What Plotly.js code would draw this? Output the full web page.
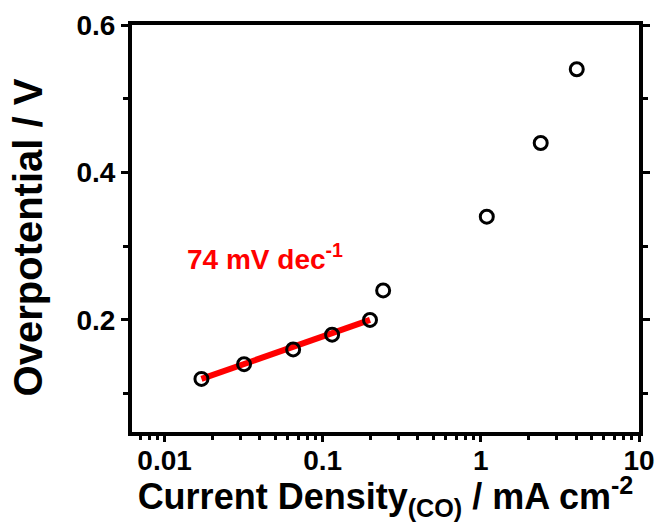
<!DOCTYPE html>
<html>
<head>
<meta charset="utf-8">
<script src="https://cdn.plot.ly/plotly-3.0.1.min.js"></script>
<style>html,body{margin:0;padding:0;background:#fff;}#chart{width:659px;height:522px;}</style>
</head>
<body>
<div id="chart"></div>
<script>
// Data
const currentDensity = [0.0171, 0.0318, 0.065, 0.1146, 0.199, 0.241, 1.09, 2.39, 4.04]; // mA cm^-2
const overpotential  = [0.12, 0.14, 0.16, 0.18, 0.20, 0.24, 0.34, 0.44, 0.54];        // V
const fitX = [0.0171, 0.199];
const fitY = [0.12, 0.20];
const xTickVals = [0.01, 0.1, 1, 10];
const xTickText = ["0.01", "0.1", "1", "10"];
const yTickVals = [0.2, 0.4, 0.6];
const yTickText = ["0.2", "0.4", "0.6"];
const tafelLabel = "74 mV dec<sup>-1</sup>";
const yTitle = "Overpotential / V";
const xTitle = "Current Density<sub>(CO)</sub> / mA cm<sup>-2</sup>";

const FONT = "Liberation Sans, Arial, Helvetica, sans-serif";

const traces = [
  {
    x: fitX, y: fitY, type: "scatter", mode: "lines",
    line: {color: "#ff0000", width: 6}, hoverinfo: "skip", showlegend: false
  },
  {
    x: currentDensity, y: overpotential, type: "scatter", mode: "markers",
    marker: {symbol: "circle-open", size: 13, color: "#000", line: {width: 3, color: "#000"}},
    showlegend: false
  }
];

const layout = {
  width: 659, height: 522,
  margin: {l: 132, r: 20, t: 25, b: 90},
  paper_bgcolor: "#fff", plot_bgcolor: "#fff",
  font: {family: FONT, color: "#000", weight: "bold"},
  xaxis: {
    type: "log",
    range: [Math.log10(0.00622), 1],
    tickvals: xTickVals, ticktext: xTickText,
    ticks: "outside", ticklen: 6, tickwidth: 3, tickcolor: "#000",
    tickfont: {size: 28, family: FONT, weight: "bold"},
    ticklabelstandoff: -6,
    showline: true, linewidth: 4, linecolor: "#000", mirror: true,
    showgrid: false, zeroline: false,
    minor: {ticks: "outside", ticklen: 4, tickwidth: 3, tickcolor: "#000", dtick: "D1", showgrid: false},
    title: {text: xTitle, font: {size: 36, family: FONT, weight: "bold"}, standoff: 2}
  },
  yaxis: {
    range: [0.048, 0.6],
    tickvals: yTickVals, ticktext: yTickText,
    ticks: "outside", ticklen: 7, tickwidth: 3, tickcolor: "#000",
    tickfont: {size: 28, family: FONT, weight: "bold"},
    showline: true, linewidth: 4, linecolor: "#000", mirror: "allticks",
    showgrid: false, zeroline: false,
    minor: {ticks: "outside", ticklen: 5, tickwidth: 3, tickcolor: "#000", tickvals: [0.1, 0.3, 0.5], showgrid: false}
  },
  annotations: [
    {
      x: Math.log10(0.0135), y: 0.285, xref: "x", yref: "y",
      xanchor: "left", yanchor: "middle",
      text: tafelLabel, showarrow: false,
      font: {size: 28, color: "#ff0000", family: FONT, weight: "bold"}
    },
    {
      x: -0.206, y: 0.477, xref: "paper", yref: "paper",
      xanchor: "center", yanchor: "middle", textangle: -90,
      text: yTitle, showarrow: false,
      font: {size: 40, color: "#000", family: FONT, weight: "bold"}
    }
  ]
};

Plotly.newPlot("chart", traces, layout, {displayModeBar: false, staticPlot: true});
</script>
</body>
</html>
